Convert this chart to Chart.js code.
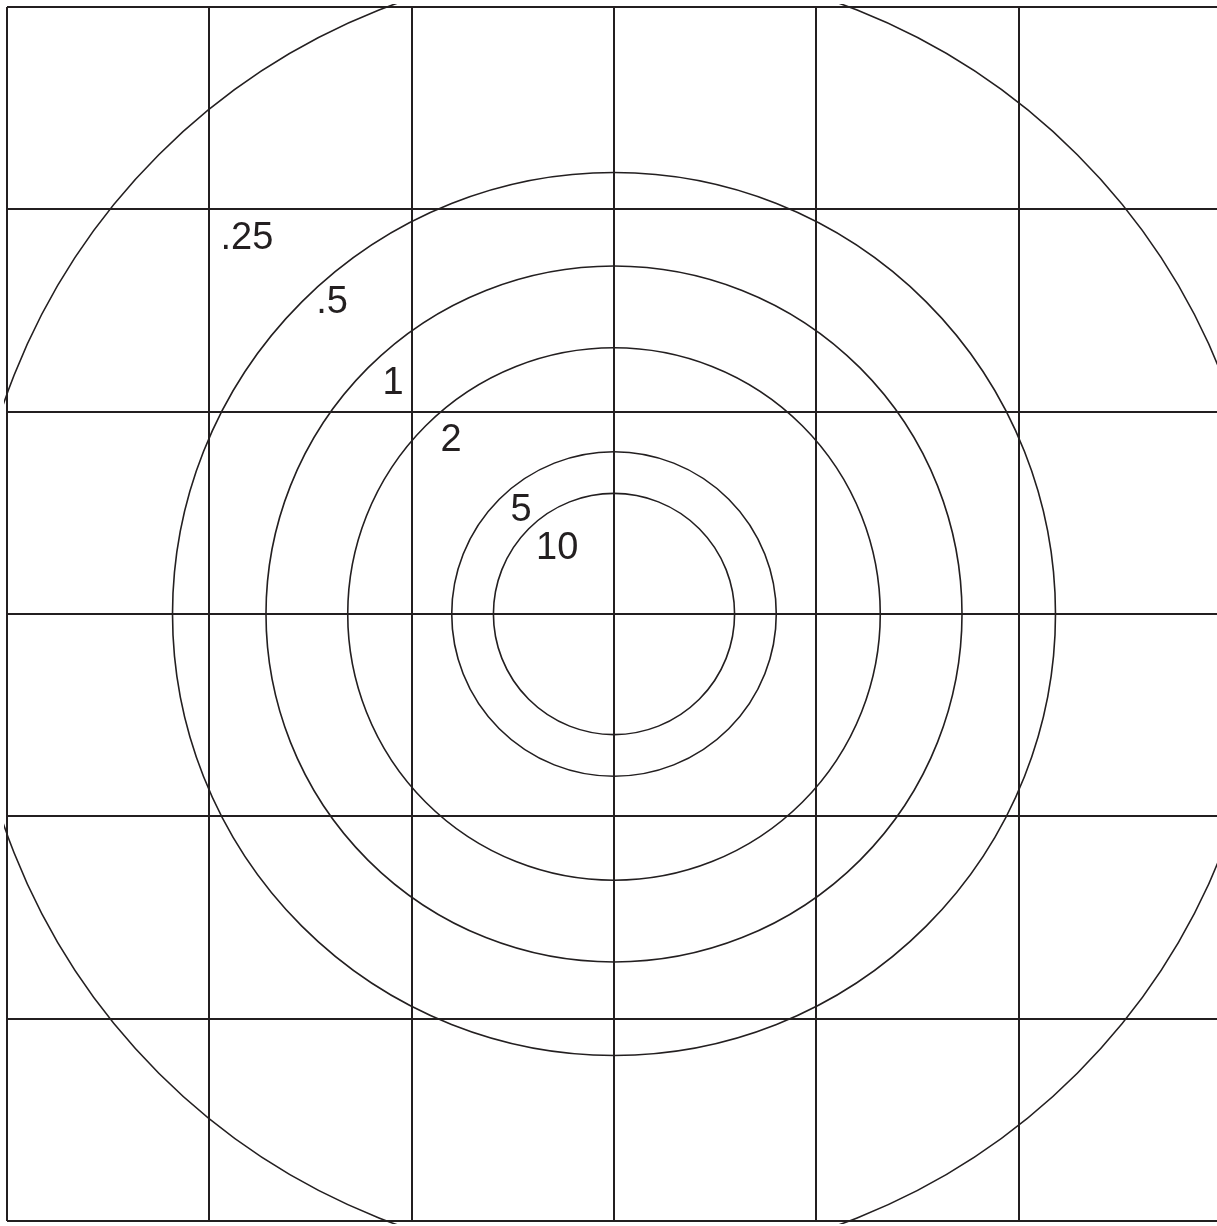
<!DOCTYPE html>
<html>
<head>
<meta charset="utf-8">
<script src="https://cdn.jsdelivr.net/npm/chart.js@4.4.1/dist/chart.umd.min.js"></script>
<style>
  html, body { margin: 0; padding: 0; background: #fff; overflow: hidden; }
  #wrap { position: absolute; left: 0; top: 0; width: 1228px; height: 1226px; }
</style>
</head>
<body>
<div id="wrap"><canvas id="chart" width="1228" height="1226"></canvas></div>
<script>
// grid ticks (one cell per unit)
const gridTicks = [-3, -2, -1, 0, 1, 2, 3];

// rings around the centre, radius in grid units
const ringLabels = ['10', '5', '2', '1', '.5', '.25'];
const ringRadii = [0.596, 0.802, 1.316, 1.72, 2.182, 3.21];
const ringCenterX = [0, 0, 0, 0, 0, 0.02];

// where each ring's label sits
const labelX = [-0.281, -0.459, -0.805, -1.092, -1.393, -1.814];
const labelY = [0.340, 0.524, 0.870, 1.156, 1.552, 1.873];

const ink = '#231f20';

const ringLabelPlugin = {
    id: 'ringLabels',
    afterDatasetsDraw: function (chart) {
        const meta = chart.getDatasetMeta(1);
        const c = chart.ctx;
        c.save();
        c.fillStyle = ink;
        c.font = '38px "Liberation Sans", Arial, sans-serif';
        c.textAlign = 'center';
        c.textBaseline = 'alphabetic';
        meta.data.forEach(function (pt, i) {
            c.fillText(ringLabels[i], pt.x, pt.y + 13.5);
        });
        c.restore();
    }
};

function ringRadius(ctx) {
    const s = ctx.chart.scales.x;
    if (!ctx.raw) return 0;
    return s.getPixelForValue(ctx.raw.r) - s.getPixelForValue(0);
}

function fixedTicks(scale) {
    scale.ticks = gridTicks.map(function (v) { return { value: v }; });
}

const TheChart = new Chart(document.getElementById('chart'), {
    type: 'scatter',
    data: {
        datasets: [{
            label: 'rings',
            data: ringRadii.map(function (r, i) { return { x: ringCenterX[i], y: 0, r: r }; }),
            pointStyle: 'circle',
            pointRadius: ringRadius,
            pointHoverRadius: ringRadius,
            backgroundColor: 'rgba(0,0,0,0)',
            borderColor: ink,
            pointBorderWidth: 1.6,
            clip: 3
        }, {
            label: 'labels',
            data: labelX.map(function (x, i) { return { x: x, y: labelY[i] }; }),
            pointRadius: 0,
            pointHoverRadius: 0
        }]
    },
    options: {
        responsive: false,
        animation: false,
        events: [],
        layout: {
            padding: { left: 7, top: 7, right: 7, bottom: 5 }
        },
        plugins: {
            legend: { display: false },
            tooltip: { enabled: false }
        },
        scales: {
            x: {
                type: 'linear',
                min: -3,
                max: 3,
                afterBuildTicks: fixedTicks,
                ticks: { display: false },
                grid: { color: ink, lineWidth: 2, drawTicks: false },
                border: { display: false }
            },
            y: {
                type: 'linear',
                min: -3,
                max: 3,
                afterBuildTicks: fixedTicks,
                ticks: { display: false },
                grid: { color: ink, lineWidth: 2, drawTicks: false },
                border: { display: false }
            }
        }
    },
    plugins: [ringLabelPlugin]
});
</script>
</body>
</html>
